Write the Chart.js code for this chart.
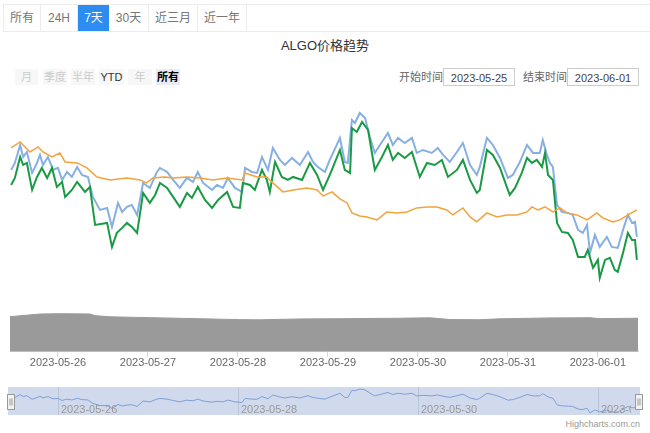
<!DOCTYPE html>
<html>
<head>
<meta charset="utf-8">
<title>ALGO价格趋势</title>
<script src="https://cdn.jsdelivr.net/npm/chart.js@4.4.0/dist/chart.umd.min.js"></script>
<style>
  body { margin: 0; width: 650px; height: 433px; position: relative; overflow: hidden; background: #fff;
    font-family: "Liberation Sans", "Noto Sans CJK SC", sans-serif; }
  .tabs { position: absolute; left: 3px; top: 4px; width: 647px; height: 26px; border-top: 1px solid #ececec; border-bottom: 1px solid #ececec; border-left: 1px solid #ececec; }
  .tab { position: absolute; top: 0; height: 26px; line-height: 26px; font-size: 12px; color: #777; text-align: center; border-right: 1px solid #ececec; box-sizing: border-box; }
  .tab.on { background: #2d8cf0; color: #fff; border-right: none; }
  .title { position: absolute; top: 37px; left: 0; width: 650px; text-align: center; font-size: 13px; line-height: 18px; color: #333; }
  .rb { position: absolute; top: 69px; height: 16px; line-height: 16px; font-size: 11px; text-align: center; background: #f7f7f7; color: #ccc; }
  .rb.ok { color: #333; }
  .rb.sel { background: #e6ebf5; color: #000; font-weight: bold; }
  .lbl { position: absolute; top: 68px; line-height: 18px; font-size: 11px; color: #666; }
  .box { position: absolute; top: 68px; width: 72px; height: 18px; line-height: 18px; border: 1px solid #ccc; box-sizing: border-box; font-size: 11px; color: #444; text-align: center; }
  canvas { position: absolute; left: 0; }
  .credit { position: absolute; right: 10px; top: 419px; font-size: 9px; color: #999; }
</style>
</head>
<body>
<div class="tabs">
  <div class="tab" style="left:0;width:37px">所有</div>
  <div class="tab" style="left:37px;width:37px">24H</div>
  <div class="tab on" style="left:74px;width:31px">7天</div>
  <div class="tab" style="left:105px;width:40px">30天</div>
  <div class="tab" style="left:145px;width:49px">近三月</div>
  <div class="tab" style="left:194px;width:49px">近一年</div>
</div>
<div class="title">ALGO价格趋势</div>

<div class="rb" style="left:15px;width:23px">月</div>
<div class="rb" style="left:43px;width:24px">季度</div>
<div class="rb" style="left:71px;width:24px">半年</div>
<div class="rb ok" style="left:99px;width:25px">YTD</div>
<div class="rb" style="left:128px;width:24px">年</div>
<div class="rb sel" style="left:156px;width:24px">所有</div>

<div class="lbl" style="left:399px">开始时间</div>
<div class="box" style="left:443px">2023-05-25</div>
<div class="lbl" style="left:523px">结束时间</div>
<div class="box" style="left:567px">2023-06-01</div>

<canvas id="main" width="650" height="275" style="top:95px"></canvas>
<canvas id="nav" width="650" height="30" style="top:386px"></canvas>
<div class="credit">Highcharts.com.cn</div>

<script>
// time = hours since 2023-05-25 00:00
const dayTicks = [24, 48, 72, 96, 120, 144, 168];
const dayLabels = ['2023-05-26', '2023-05-27', '2023-05-28', '2023-05-29', '2023-05-30', '2023-05-31', '2023-06-01'];
const navTicks = [24, 72, 120, 168];
const navLabels = ['2023-05-26', '2023-05-28', '2023-05-30', '2023-06-01'];

const blueTimes = [11.5,12.5,13.9,14.7,15.7,17.1,18.4,19.2,20.0,21.3,22.7,24.0,25.1,26.4,27.7,29.1,30.4,32.0,33.3,35.2,37.1,38.4,40.0,41.1,42.4,43.7,45.1,46.7,48.5,50.4,
  51.2,53.1,54.7,56.5,58.4,60.0,61.3,62.7,65.1,66.4,68.0,69.3,71.2,73.1,73.9,75.7,77.1,78.4,80.0,81.3,83.2,84.5,86.4,88.5,90.7,92.0,93.3,95.2,96.5,
  99.2,100.5,101.3,102.4,103.2,104.5,105.9,107.2,108.5,110.4,112.0,113.3,114.7,116.5,118.4,119.7,121.3,123.7,125.3,126.7,128.5,130.4,132.0,133.9,135.7,
  136.5,138.4,140.0,141.9,144.0,145.3,147.2,149.1,150.7,152.5,153.3,154.4,155.2,156.0,157.1,158.4,160.0,161.3,162.7,164.0,165.1,165.9,167.2,168.5,170.4,171.7,173.3,174.7,176.0,177.1,177.9,178.4];
const bluePrice = [0.1230,0.1237,0.1255,0.1243,0.1248,0.1227,0.1237,0.1245,0.1235,0.1243,0.1230,0.1232,0.1220,0.1228,0.1223,0.1233,0.1225,0.1223,0.1203,0.1190,0.1192,0.1173,0.1197,0.1188,0.1193,0.1195,0.1185,0.1217,0.1212,0.1228,
  0.1232,0.1228,0.1220,0.1212,0.1222,0.1218,0.1228,0.1217,0.1210,0.1215,0.1212,0.1222,0.1212,0.1208,0.1232,0.1228,0.1227,0.1243,0.1230,0.1252,0.1240,0.1235,0.1242,0.1235,0.1248,0.1238,0.1233,0.1228,0.1240,
  0.1262,0.1238,0.1237,0.1280,0.1277,0.1287,0.1282,0.1263,0.1247,0.1258,0.1267,0.1255,0.1262,0.1257,0.1262,0.1247,0.1250,0.1247,0.1252,0.1245,0.1238,0.1248,0.1257,0.1235,0.1225,
  0.1233,0.1262,0.1255,0.1242,0.1222,0.1225,0.1238,0.1255,0.1247,0.1247,0.1260,0.1245,0.1237,0.1233,0.1195,0.1188,0.1187,0.1185,0.1170,0.1167,0.1175,0.1147,0.1165,0.1153,0.1163,0.1153,0.1152,0.1170,0.1185,0.1177,0.1178,0.1163];

const greenTimes = [11.5,12.5,13.9,14.7,15.7,17.1,18.4,19.7,21.1,22.4,23.7,25.1,25.9,27.7,29.1,31.2,32.5,33.9,37.1,38.4,39.7,41.1,42.4,43.7,45.1,46.7,48.5,49.9,51.2,
  53.1,54.7,56.5,58.4,59.7,61.3,63.2,65.1,66.7,69.1,70.7,72.5,73.3,75.2,76.5,78.4,79.7,80.5,81.9,83.7,85.3,86.7,89.1,91.2,93.1,94.7,96.5,
  99.2,100.5,101.9,102.4,103.7,105.1,106.7,108.5,110.4,112.0,113.3,114.7,116.5,118.4,120.5,122.4,124.5,126.4,128.0,130.4,132.0,133.9,135.7,
  136.5,138.4,140.0,141.9,143.7,144.5,145.9,147.7,149.1,150.4,151.7,153.1,153.9,154.7,156.0,157.1,158.4,160.0,161.3,162.7,164.5,165.3,166.7,168.0,168.5,169.9,171.2,172.5,173.3,174.7,176.0,177.1,177.9,178.4];
const greenPrice = [0.1215,0.1222,0.1243,0.1235,0.1237,0.1210,0.1223,0.1232,0.1222,0.1232,0.1213,0.1218,0.1203,0.1210,0.1218,0.1208,0.1213,0.1175,0.1177,0.1153,0.1167,0.1172,0.1177,0.1173,0.1167,0.1207,0.1197,0.1205,0.1217,
  0.1212,0.1203,0.1193,0.1207,0.1202,0.1213,0.1200,0.1192,0.1200,0.1208,0.1193,0.1192,0.1217,0.1215,0.1210,0.1230,0.1220,0.1208,0.1238,0.1223,0.1220,0.1223,0.1220,0.1237,0.1225,0.1210,0.1225,
  0.1250,0.1230,0.1227,0.1272,0.1268,0.1278,0.1270,0.1230,0.1243,0.1255,0.1240,0.1247,0.1242,0.1248,0.1223,0.1237,0.1235,0.1240,0.1223,0.1230,0.1240,0.1220,0.1207,
  0.1210,0.1250,0.1245,0.1232,0.1213,0.1205,0.1212,0.1227,0.1242,0.1237,0.1240,0.1233,0.1247,0.1225,0.1220,0.1177,0.1168,0.1167,0.1160,0.1143,0.1143,0.1150,0.1132,0.1140,0.1122,0.1140,0.1142,0.1130,0.1128,0.1147,0.1167,0.1160,0.1160,0.1140];

const orangeTimes = [11.5,13.9,16.5,18.7,20.0,22.4,24.5,25.9,29.1,31.7,34.4,37.9,42.4,45.9,47.7,49.3,52.5,54.7,58.4,61.9,65.3,69.1,73.1,73.9,77.1,79.7,81.3,84.0,86.7,90.4,93.1,
  94.7,97.1,99.2,101.1,102.4,104.5,106.4,109.1,111.7,114.4,117.1,119.7,122.4,125.1,127.7,129.3,132.0,133.9,135.7,138.4,141.1,143.7,146.4,149.1,150.4,152.0,153.9,156.0,157.9,159.7,162.4,165.1,167.7,169.3,172.0,173.9,176.0,178.4];
const orangePrice = [0.1252,0.1258,0.1248,0.1253,0.1248,0.1243,0.1247,0.1238,0.1237,0.1232,0.1223,0.1220,0.1222,0.1220,0.1217,0.1222,0.1223,0.1222,0.1223,0.1222,0.1220,0.1222,0.1220,0.1227,0.1223,0.1223,0.1217,0.1208,0.1210,0.1212,0.1210,
  0.1204,0.1208,0.1201,0.1197,0.1187,0.1184,0.1183,0.1180,0.1188,0.1187,0.1188,0.1192,0.1193,0.1193,0.1190,0.1185,0.1192,0.1183,0.1178,0.1187,0.1183,0.1185,0.1185,0.1188,0.1193,0.1190,0.1193,0.1188,0.1192,0.1187,0.1185,0.1180,0.1187,0.1182,0.1178,0.1180,0.1185,0.1190];

// 24h rolling volume, millions
const volTimes = [11.2,19.2,24.5,32.5,33.9,37.9,48.5,61.9,72.5,77.9,88.5,101.9,115.2,123.2,128.5,136.5,141.9,155.2,165.9,168.5,178.7];
const volume = [35.2,37.8,38.1,37.9,36.2,35.0,34.2,33.1,32.2,32.0,32.9,33.2,33.6,34.0,32.3,32.1,33.0,33.9,34.1,33.2,33.6];

const zip = (xs, ys) => xs.map((x, i) => ({ x: x, y: ys[i] }));
const xMin = 11.2, xMax = 178.7;

new Chart(document.getElementById('main'), {
  type: 'line',
  data: {
    datasets: [
      { label: 'ALGO', data: zip(orangeTimes, orangePrice), borderColor: '#f4a23b', borderWidth: 1.5, yAxisID: 'y', order: 1 },
      { label: 'ALGO 卖价', data: zip(greenTimes, greenPrice), borderColor: '#1b9a45', borderWidth: 2, yAxisID: 'y', order: 2 },
      { label: 'ALGO 买价', data: zip(blueTimes, bluePrice), borderColor: '#86b0e4', borderWidth: 2, yAxisID: 'y', order: 3 },
      { label: '成交量', data: zip(volTimes, volume), borderColor: '#9a9a9a', backgroundColor: '#9a9a9a', borderWidth: 1, fill: 'origin', yAxisID: 'yVol', order: 4 }
    ]
  },
  options: {
    responsive: false,
    animation: false,
    devicePixelRatio: 1,
    layout: { padding: { left: 10, right: 12, top: 5, bottom: 0 } },
    elements: { point: { radius: 0 }, line: { tension: 0 } },
    plugins: { legend: { display: false }, tooltip: { enabled: false } },
    scales: {
      x: {
        type: 'linear', min: xMin, max: xMax,
        afterBuildTicks: (axis) => { axis.ticks = dayTicks.map(v => ({ value: v })); },
        ticks: {
          autoSkip: false, maxRotation: 0, padding: 0, color: '#666',
          font: { family: 'Liberation Sans', size: 11 },
          callback: (v) => dayLabels[dayTicks.indexOf(v)]
        },
        grid: { drawOnChartArea: false, tickLength: 5, color: '#ccd6eb' },
        border: { display: true, color: '#ccd6eb' }
      },
      y: { display: false, min: 0.1048, max: 0.1300 },
      yVol: { display: false, min: 0, max: 252 }
    }
  }
});

const navDecor = {
  id: 'navDecor',
  beforeDatasetsDraw(chart) {
    const { ctx, chartArea: a, scales: { x } } = chart;
    ctx.save();
    ctx.fillStyle = 'rgba(102,133,194,0.3)';
    ctx.fillRect(a.left - 2, a.top, a.width + 4, a.height);
    ctx.strokeStyle = 'rgba(180,190,210,0.8)';
    ctx.lineWidth = 1;
    navTicks.forEach(t => {
      const px = Math.round(x.getPixelForValue(t)) + 0.5;
      ctx.beginPath(); ctx.moveTo(px, a.top); ctx.lineTo(px, a.bottom); ctx.stroke();
    });
    ctx.restore();
  },
  afterDatasetsDraw(chart) {
    const { ctx, chartArea: a, scales: { x } } = chart;
    ctx.save();
    ctx.beginPath();
    ctx.rect(a.left, a.top, a.width - 7, a.height);
    ctx.clip();
    ctx.fillStyle = '#999';
    ctx.font = '11px "Liberation Sans"';
    ctx.textBaseline = 'alphabetic';
    navTicks.forEach((t, i) => {
      ctx.fillText(navLabels[i], x.getPixelForValue(t) + 3, a.bottom - 2);
    });
    ctx.restore();
    ctx.save();
    [a.left, a.right].forEach(cx => {
      const hx = Math.round(cx - 3.5) + 0.5, hy = Math.round(a.top + a.height / 2 - 7.5) + 0.5;
      ctx.fillStyle = '#f2f2f2';
      ctx.strokeStyle = '#999';
      ctx.lineWidth = 1;
      ctx.fillRect(hx, hy, 7, 15);
      ctx.strokeRect(hx, hy, 7, 15);
      ctx.beginPath();
      ctx.moveTo(hx + 2.5, hy + 4); ctx.lineTo(hx + 2.5, hy + 11);
      ctx.moveTo(hx + 4.5, hy + 4); ctx.lineTo(hx + 4.5, hy + 11);
      ctx.stroke();
    });
    ctx.restore();
  }
};

new Chart(document.getElementById('nav'), {
  type: 'line',
  data: {
    datasets: [
      { label: 'navigator', data: zip(blueTimes, bluePrice), borderColor: '#7d9fd8', borderWidth: 1 }
    ]
  },
  options: {
    responsive: false,
    animation: false,
    devicePixelRatio: 1,
    layout: { padding: { left: 10, right: 12, top: 1, bottom: 1 } },
    elements: { point: { radius: 0 }, line: { tension: 0 } },
    plugins: { legend: { display: false }, tooltip: { enabled: false } },
    scales: {
      x: { type: 'linear', display: false, min: xMin, max: xMax },
      y: { display: false, min: 0.1135, max: 0.1299 }
    }
  },
  plugins: [navDecor]
});
</script>
</body>
</html>
